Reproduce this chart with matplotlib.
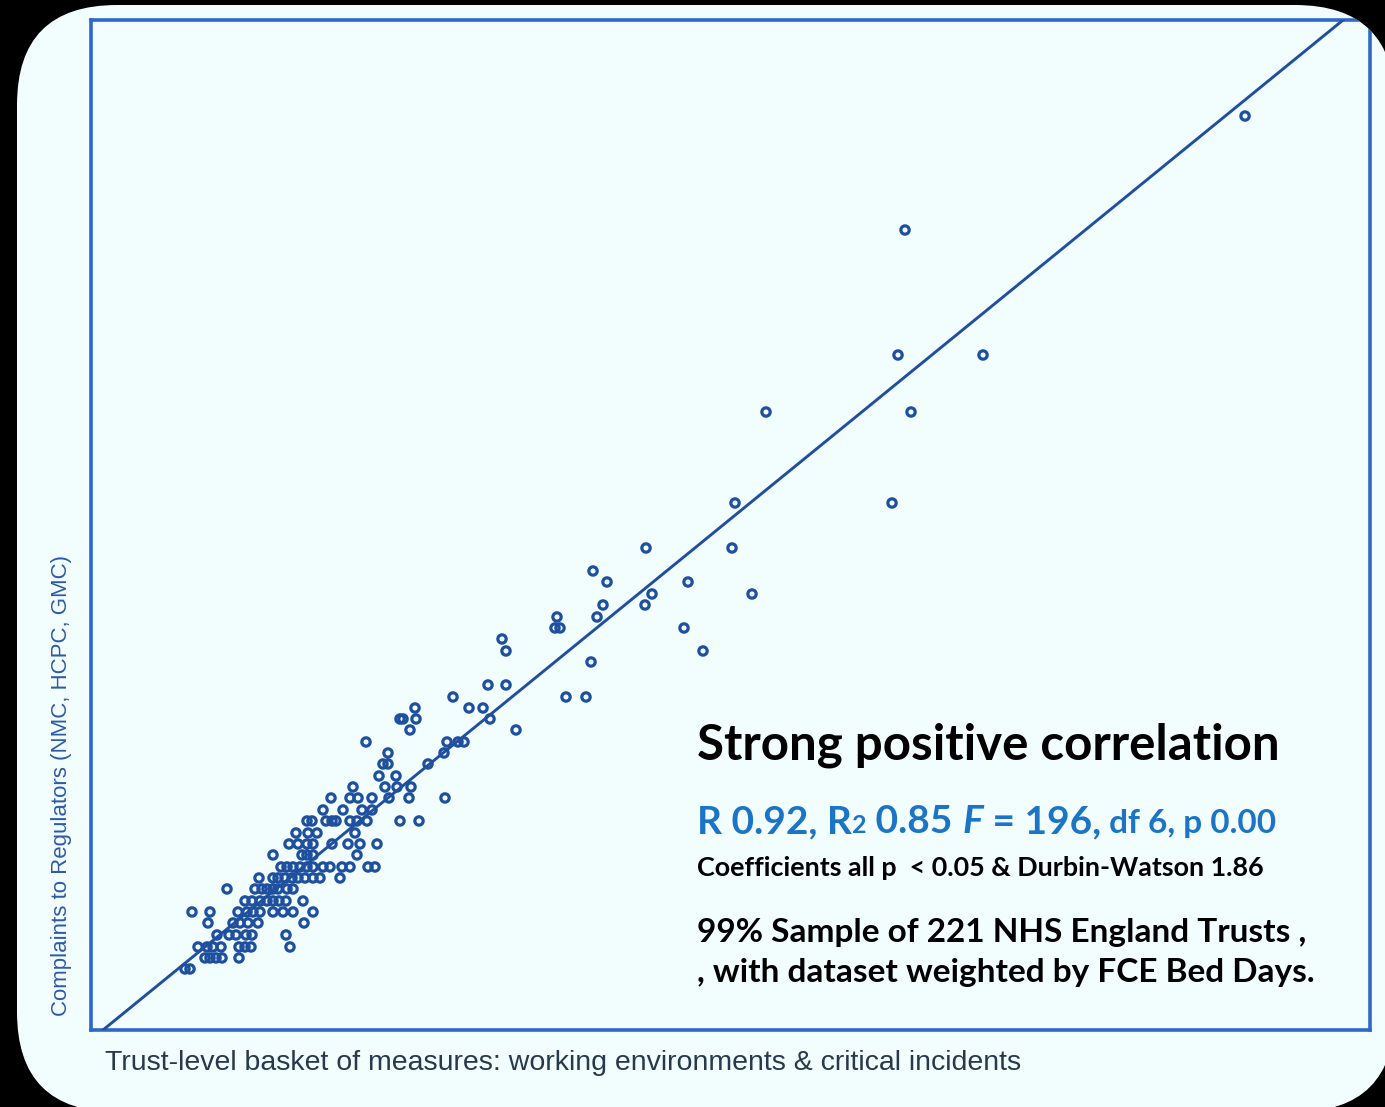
import numpy as np
import matplotlib
matplotlib.use("Agg")
import matplotlib.pyplot as plt
from matplotlib.patches import FancyBboxPatch

# scatter values (arbitrary units, axis 0..127.9 / 0..101)
x_vals = [
    115.4, 81.4, 80.7, 89.2, 67.5, 82.0, 80.1, 64.4, 55.5, 64.1,
    50.2, 51.6, 59.7, 56.1, 66.1, 51.2, 55.4, 50.6, 46.6, 46.4,
    46.9, 59.3, 41.1, 41.5, 61.2, 50.0, 39.7, 41.5, 47.5, 49.5,
    36.2, 37.8, 39.2, 39.9, 42.5, 32.4, 30.9, 31.2, 32.5, 31.9,
    27.5, 35.6, 36.7, 37.3, 29.7, 35.3, 29.2, 29.7, 33.7, 28.8,
    30.5, 26.2, 29.4, 30.6, 32.0, 24.0, 25.9, 26.7, 28.1, 29.8,
    31.8, 35.4, 23.2, 25.2, 27.1, 28.1,
    21.6, 22.1, 23.5, 24.1, 24.5, 25.9, 26.6, 27.6, 30.9, 32.8,
    20.5, 21.7, 22.6, 26.4,
    19.8, 20.7, 21.6, 22.2, 24.1, 25.7, 26.9, 28.6,
    18.2, 21.1, 21.6, 22.2, 26.6,
    19.0, 19.6, 20.2, 20.9, 21.6, 22.2, 23.2, 23.9, 25.1, 25.9, 27.7, 28.4,
    16.8, 18.2, 18.7, 19.4, 20.1, 20.7, 21.4, 22.2, 22.9, 24.9,
    13.6, 16.4, 17.1, 17.6, 18.2, 18.7, 19.6, 20.2,
    15.4, 16.1, 16.9, 17.6, 18.2, 18.8, 19.5, 21.2,
    10.1, 11.9, 14.7, 15.6, 16.2, 16.9, 18.2, 19.2, 20.2, 22.2,
    11.7, 14.2, 14.9, 15.7, 16.7, 21.3,
    12.6, 13.8, 14.5, 15.5, 16.1, 19.5,
    10.7, 11.6, 12.2, 13.0, 14.8, 15.4, 16.0, 19.9,
    11.4, 11.9, 12.5, 13.1, 14.8,
    9.4, 9.9,
]
y_vals = [
    91.4, 80.0, 67.5, 67.5, 61.8, 61.8, 52.7, 52.7, 48.2, 48.2,
    45.9, 44.8, 44.8, 43.6, 43.6, 42.5, 42.5, 41.3, 41.3, 40.2,
    40.2, 40.2, 39.1, 37.9, 37.9, 36.8, 34.5, 34.5, 33.3, 33.3,
    33.3, 32.2, 32.2, 31.1, 30.0, 32.2, 31.1, 31.1, 31.1, 30.0,
    28.8, 28.8, 28.8, 28.8, 27.7, 27.7, 26.6, 26.6, 26.6, 25.4,
    25.4, 24.3, 24.3, 24.3, 24.3, 23.2, 23.2, 23.2, 23.2, 23.2,
    23.2, 23.2, 22.0, 22.0, 22.0, 22.0,
    20.9, 20.9, 20.9, 20.9, 20.9, 20.9, 20.9, 20.9, 20.9, 20.9,
    19.7, 19.7, 19.7, 19.7,
    18.6, 18.6, 18.6, 18.6, 18.6, 18.6, 18.6, 18.6,
    17.5, 17.5, 17.5, 17.5, 17.5,
    16.3, 16.3, 16.3, 16.3, 16.3, 16.3, 16.3, 16.3, 16.3, 16.3, 16.3, 16.3,
    15.2, 15.2, 15.2, 15.2, 15.2, 15.2, 15.2, 15.2, 15.2, 15.2,
    14.1, 14.1, 14.1, 14.1, 14.1, 14.1, 14.1, 14.1,
    12.9, 12.9, 12.9, 12.9, 12.9, 12.9, 12.9, 12.9,
    11.8, 11.8, 11.8, 11.8, 11.8, 11.8, 11.8, 11.8, 11.8, 11.8,
    10.7, 10.7, 10.7, 10.7, 10.7, 10.7,
    9.5, 9.5, 9.5, 9.5, 9.5, 9.5,
    8.3, 8.3, 8.3, 8.3, 8.3, 8.3, 8.3, 8.3,
    7.2, 7.2, 7.2, 7.2, 7.2,
    6.1, 6.1,
]

# fitted line
fit_slope = 0.8145
fit_intercept = -0.98

x_label = "Trust-level basket of measures: working environments & critical incidents"
y_label = "Complaints to Regulators (NMC, HCPC, GMC)"

BG = "#f2fdfe"
BLUE_TXT = "#1b74c5"

fig = plt.figure(figsize=(13.85, 11.07), dpi=100, facecolor="black")

# rounded white card behind everything
card = FancyBboxPatch((0.17, -0.05), 13.78, 11.07,
                      boxstyle="round,pad=0,rounding_size=1.0",
                      transform=fig.dpi_scale_trans, facecolor=BG,
                      edgecolor="none", zorder=-10)
fig.patches.append(card)

ax = fig.add_axes([0.0657, 0.0696, 0.9235, 0.9123])
ax.set_zorder(1)
ax.set_facecolor("none")
ax.set_xlim(0, 127.9)
ax.set_ylim(0, 101)
ax.set_xticks([])
ax.set_yticks([])
for sp in ax.spines.values():
    sp.set_color("#2f68c8")
    sp.set_linewidth(2.6)
    sp.set_clip_path(card)

xs = np.array(x_vals)
ys = np.array(y_vals)
ax.scatter(xs, ys, s=36, facecolors="none", edgecolors="#1f509f",
           linewidths=2.3, zorder=3)

xl = np.array(ax.get_xlim())
line, = ax.plot(xl, fit_slope * xl + fit_intercept, color="#1f4f9e", lw=2.1, zorder=4)
line.set_clip_path(card)

# axis titles
fig.text(62 / 1385, 1 - 786 / 1107, y_label, rotation=90, ha="center", va="center",
         fontsize=16, color="#2e5aa5", family="Liberation Sans")
fig.text(105 / 1385, 1 - 1063 / 1107, x_label, ha="left", va="center",
         fontsize=20.5, color="#27394d", family="Liberation Sans")

# annotation block
fam = "Lato"
x0 = 697 / 1385
fig.text(x0, 1 - 759 / 1107, "Strong positive correlation", fontsize=35.5,
         fontweight="bold", family=fam, color="black", va="baseline")

# mixed-style statistics line, pieces laid out one after another
pieces = [
    ("R 0.92, R", 28, "normal"),
    ("2", 18, "normal"),
    (" 0.85 ", 28, "normal"),
    ("F", 28, "italic"),
    (" = 196,", 28, "normal"),
    (" df 6, p 0.00", 24, "normal"),
]
fig.canvas.draw()
renderer = fig.canvas.get_renderer()
cur_x = x0
base_y = 1 - 833 / 1107
for txt, size, style in pieces:
    t = fig.text(cur_x, base_y, txt, fontsize=size, fontweight="bold", fontstyle=style,
                 family=fam, color=BLUE_TXT, va="baseline")
    bb = t.get_window_extent(renderer)
    cur_x += bb.width / fig.bbox.width

fig.text(x0, 1 - 876 / 1107, "Coefficients all p  < 0.05 & Durbin-Watson 1.86",
         fontsize=19.4, fontweight="bold", family=fam, color="black", va="baseline")
fig.text(x0, 1 - 942 / 1107, "99% Sample of 221 NHS England Trusts ,",
         fontsize=24, fontweight="bold", family=fam, color="black", va="baseline")
fig.text(x0, 1 - 982 / 1107, ", with dataset weighted by FCE Bed Days.",
         fontsize=24, fontweight="bold", family=fam, color="black", va="baseline")

fig.savefig("out.png", dpi=100, facecolor="black")
